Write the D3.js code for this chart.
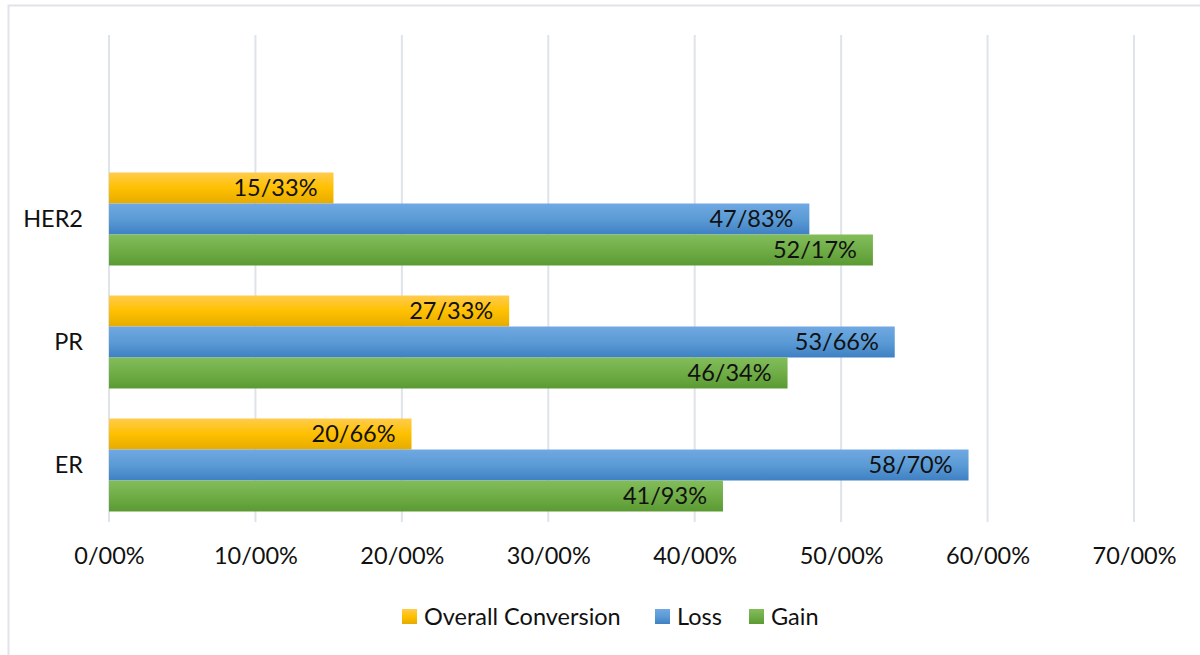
<!DOCTYPE html>
<html>
<head>
<meta charset="utf-8">
<script src="https://cdn.jsdelivr.net/npm/d3@7/dist/d3.min.js"></script>
<style>
  html, body { margin: 0; padding: 0; background: #fff; }
  svg { display: block; font-family: Lato, "Open Sans", sans-serif; }
</style>
</head>
<body>
<svg id="chart" width="1200" height="655"></svg>
<script>
// ---- data ----
const categories = ["HER2", "PR", "ER"];           // top to bottom
const seriesNames = ["Overall Conversion", "Loss", "Gain"];
const overallConversion = [15.33, 27.33, 20.66];
const loss = [47.83, 53.66, 58.70];
const gain = [52.17, 46.34, 41.93];
const tickValues = [0, 10, 20, 30, 40, 50, 60, 70];

const seriesValues = [overallConversion, loss, gain];
const colors = [
  ["#ffcc4d", "#ffc000", "#e5ab00"],
  ["#70a8e2", "#5b9bd5", "#3f80c4"],
  ["#82bd5a", "#70ad47", "#5b9a33"]
];
const FONT = "Lato, 'Open Sans', sans-serif";
const FS = 23.5;

const fmt = v => v.toFixed(2).replace(".", "/") + "%";

const svg = d3.select("#chart");

// border
svg.append("rect")
  .attr("x", 8.5).attr("y", 5.5)
  .attr("width", 1200).attr("height", 700)
  .attr("fill", "#fff").attr("stroke", "#dfe3ea").attr("stroke-width", 2);

// gradients
const defs = svg.append("defs");
colors.forEach((c, i) => {
  const g = defs.append("linearGradient").attr("id", "grad" + i)
    .attr("x1", 0).attr("y1", 0).attr("x2", 0).attr("y2", 1);
  g.append("stop").attr("offset", "0%").attr("stop-color", c[0]);
  g.append("stop").attr("offset", "50%").attr("stop-color", c[1]);
  g.append("stop").attr("offset", "100%").attr("stop-color", c[2]);
});

const x = d3.scaleLinear().domain([0, 70]).range([109, 1134]);
const y = d3.scaleBand().domain(categories).range([157.5, 526.5])
  .paddingInner(0.244).paddingOuter(0.122);
const ys = d3.scaleBand().domain(seriesNames).range([0, y.bandwidth()]);

// gridlines
svg.append("g").selectAll("line").data(tickValues).join("line")
  .attr("x1", d => x(d)).attr("x2", d => x(d))
  .attr("y1", 35).attr("y2", 522)
  .attr("stroke", "#dfe3ea").attr("stroke-width", 2);

// x axis labels
const xAxis = d3.axisBottom(x).tickValues(tickValues).tickFormat(d => fmt(d)).tickSize(0).tickPadding(0);
const xg = svg.append("g").attr("transform", "translate(0,547)").call(xAxis);
xg.select(".domain").remove();
xg.selectAll("text").attr("font-size", FS).attr("fill", "#111")
  .attr("font-family", FONT);

// y axis labels
const yAxis = d3.axisLeft(y).tickSize(0).tickPadding(0);
const yg = svg.append("g").attr("transform", "translate(83,0)").call(yAxis);
yg.select(".domain").remove();
yg.selectAll("text").attr("font-size", FS).attr("fill", "#111")
  .attr("font-family", FONT);

// bars
const rows = [];
categories.forEach((c, ci) => {
  seriesNames.forEach((s, si) => {
    rows.push({ cat: c, ser: s, si: si, v: seriesValues[si][ci] });
  });
});

const bars = svg.append("g");
bars.selectAll("rect").data(rows).join("rect")
  .attr("x", x(0))
  .attr("y", d => y(d.cat) + ys(d.ser))
  .attr("width", d => x(d.v) - x(0))
  .attr("height", ys.bandwidth())
  .attr("fill", d => "url(#grad" + d.si + ")");

bars.selectAll("text").data(rows).join("text")
  .attr("x", d => x(d.v) - 16)
  .attr("y", d => y(d.cat) + ys(d.ser) + ys.bandwidth() / 2)
  .attr("dy", "0.36em")
  .attr("text-anchor", "end")
  .attr("font-size", FS)
  .attr("font-family", FONT)
  .attr("fill", "#111")
  .text(d => fmt(d.v));

// legend
const legendX = [402, 655, 749];
const lg = svg.append("g");
seriesNames.forEach((s, i) => {
  lg.append("rect").attr("x", legendX[i]).attr("y", 609)
    .attr("width", 15).attr("height", 15).attr("fill", "url(#grad" + i + ")");
  lg.append("text").attr("x", legendX[i] + 22).attr("y", 616.5).attr("dy", "0.36em")
    .attr("font-size", FS).attr("font-family", FONT).attr("fill", "#111").text(s);
});
</script>
</body>
</html>
